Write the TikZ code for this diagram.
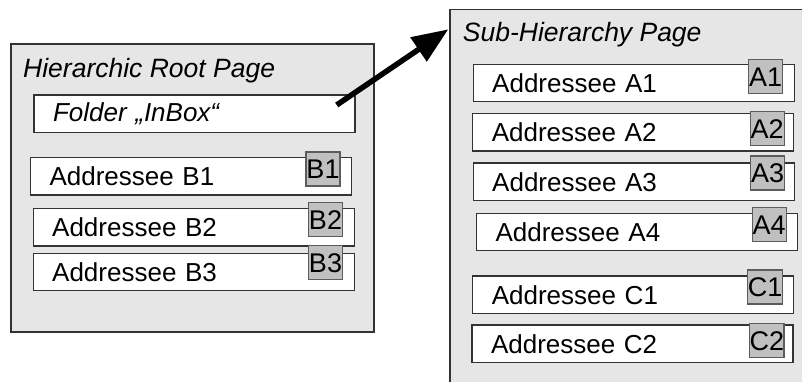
\documentclass[tikz,border=0pt]{standalone}
\usepackage{fontspec}
\setmainfont{Liberation Sans}
\usepackage{tikz}
\usetikzlibrary{arrows.meta}

\definecolor{pagegray}{HTML}{E6E6E6}
\definecolor{taggray}{HTML}{C0C0C0}
\definecolor{linegray}{HTML}{333333}
\newcommand{\labelfont}{\fontsize{26}{30}\selectfont}

\begin{document}
\begin{tikzpicture}[x=1pt,y=-1pt,
    font=\labelfont,
    page/.style={draw=linegray, line width=1.2pt, fill=pagegray, inner sep=0pt},
    entry/.style={draw=linegray, line width=1.2pt, fill=white, minimum height=37.5pt,
        text width=283pt, inner xsep=19pt, inner ysep=0pt, align=left},
    tag/.style={draw=linegray!80, line width=1.2pt, fill=taggray, anchor=south,
        inner sep=0pt, minimum width=34pt, minimum height=34pt,
        font=\fontsize{27}{30}\selectfont, text height=19.5pt, text depth=0pt},
    pagetitle/.style={anchor=base west, inner sep=0pt, font=\fontsize{26.5}{30}\selectfont\itshape},
    bigarrow/.style={line width=5.5pt, -{Triangle[length=36pt,width=28pt]}}]

            \useasboundingbox (0,0) rectangle (802,381);
            \clip (0,0) rectangle (802,381);

            % Left page
            \node[page, minimum width=363pt, minimum height=288pt] (rootpage) at (192.5,188) {};
            \node[pagetitle] (roottitle) at (23,77) {Hierarchic Root Page};
            \node[entry, font=\labelfont\itshape] (inbox) at (194.5,113.7) {Folder „InBox“};

            \node[entry] (addrB1) at (191,176.2) {Addressee B1};
            \node[entry] (addrB2) at (193.7,227.2) {Addressee B2};
            \node[entry] (addrB3) at (193.7,272) {Addressee B3};
            \node[tag] (tagB1) at (323,186.5) {B1};
            \node[tag] (tagB2) at (325.5,237) {B2};
            \node[tag] (tagB3) at (325.5,280) {B3};

            % Right page - runs off the picture at right and bottom
            \node[page, minimum width=380pt, minimum height=400pt] (subpage) at (640,209.3) {};
            \node[pagetitle] (subtitle) at (462.7,41.7) {Sub-Hierarchy Page};

            \node[entry] (addrA1) at (633.7,83) {Addressee A1};
            \node[entry] (addrA2) at (633.3,132.2) {Addressee A2};
            \node[entry] (addrA3) at (633.7,181.8) {Addressee A3};
            \node[entry] (addrA4) at (637,232) {Addressee A4};
            \node[entry] (addrC1) at (633.3,294.7) {Addressee C1};
            \node[entry] (addrC2) at (632.5,343.8) {Addressee C2};
            \node[tag] (tagA1) at (765.5,94.3) {A1};
            \node[tag] (tagA2) at (767.2,146) {A2};
            \node[tag] (tagA3) at (767.5,190.5) {A3};
            \node[tag] (tagA4) at (769.2,242) {A4};
            \node[tag] (tagC1) at (765,304.5) {C1};
            \node[tag] (tagC2) at (766.8,358) {C2};

            % Arrow from the inbox folder to the sub page
            \coordinate (arrowtail) at (336.7,105);
            \coordinate (arrowtip) at (448.3,29.3);
            \draw[bigarrow] (arrowtail) -- (arrowtip);
        \end{tikzpicture}
\end{document}
